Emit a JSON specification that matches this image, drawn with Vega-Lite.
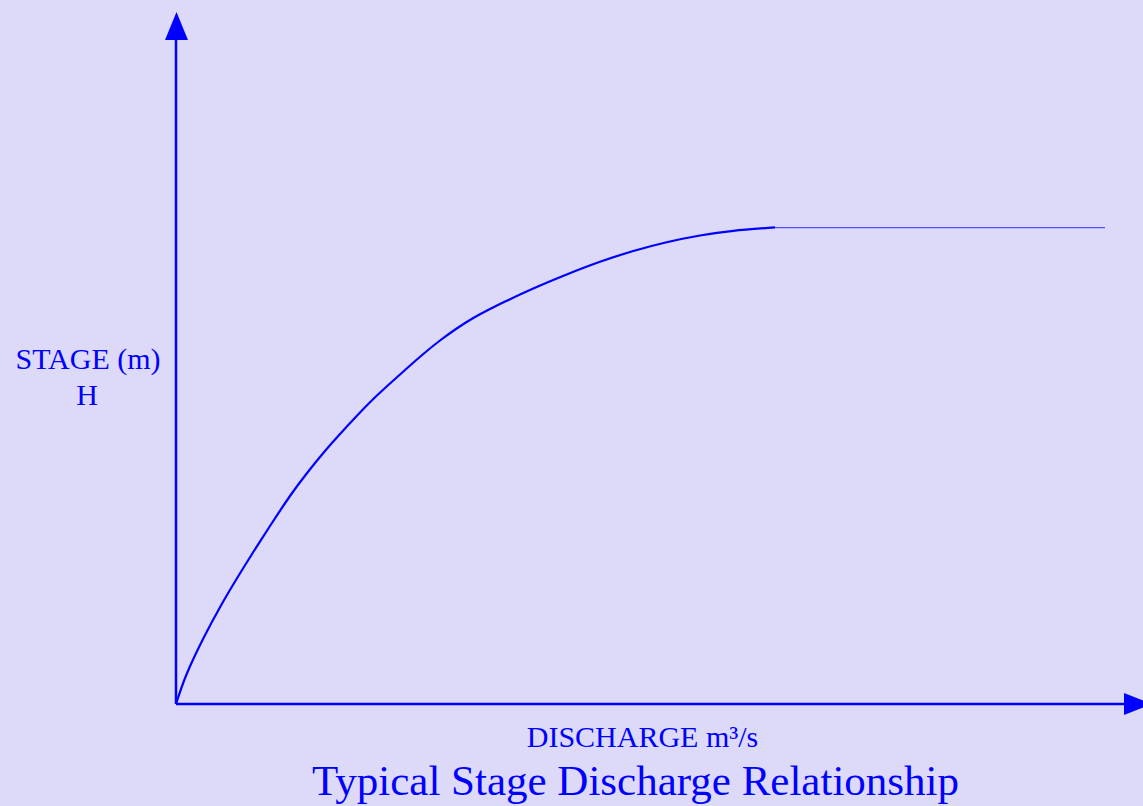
{
  "$schema": "https://vega.github.io/schema/vega-lite/v6.json",
  "width": 1143,
  "height": 806,
  "autosize": {"type": "none"},
  "padding": 0,
  "background": "#DDD9F9",
  "config": {"view": {"stroke": null}},
  "datasets": {
    "axes": [
      {"x": 0, "y": 0, "x2": 0, "y2": 66.4},
      {"x": 0, "y": 0, "x2": 94.8, "y2": 0}
    ],
    "curve": [
      {"discharge": 0, "stage": 0},
      {"discharge": 1.07, "stage": 3.0},
      {"discharge": 2.73, "stage": 6.55},
      {"discharge": 4.4, "stage": 9.68},
      {"discharge": 6.07, "stage": 12.52},
      {"discharge": 7.73, "stage": 15.2},
      {"discharge": 9.4, "stage": 17.8},
      {"discharge": 11.4, "stage": 20.8},
      {"discharge": 13.07, "stage": 23.05},
      {"discharge": 14.73, "stage": 25.1},
      {"discharge": 16.4, "stage": 27.0},
      {"discharge": 18.07, "stage": 28.8},
      {"discharge": 19.73, "stage": 30.5},
      {"discharge": 21.4, "stage": 32.05},
      {"discharge": 23.07, "stage": 33.55},
      {"discharge": 24.73, "stage": 35.0},
      {"discharge": 26.4, "stage": 36.35},
      {"discharge": 28.07, "stage": 37.55},
      {"discharge": 29.73, "stage": 38.6},
      {"discharge": 31.4, "stage": 39.5},
      {"discharge": 33.07, "stage": 40.32},
      {"discharge": 35.73, "stage": 41.55},
      {"discharge": 39.07, "stage": 42.95},
      {"discharge": 42.4, "stage": 44.22},
      {"discharge": 45.73, "stage": 45.3},
      {"discharge": 49.07, "stage": 46.18},
      {"discharge": 52.4, "stage": 46.85},
      {"discharge": 55.73, "stage": 47.32},
      {"discharge": 59.9, "stage": 47.67}
    ],
    "flat": [
      {"discharge": 59.9, "stage": 47.63},
      {"discharge": 92.9, "stage": 47.63}
    ],
    "arrows": [
      {"x": 0.05, "y": 67.8, "dir": "up"},
      {"x": 96.2, "y": 0, "dir": "right"}
    ],
    "labels": [
      {"x": -8.8, "y": 33.5, "text": "STAGE (m)", "role": "axis"},
      {"x": -8.9, "y": 29.9, "text": "H", "role": "axis"},
      {"x": 46.65, "y": -4.27, "text": "DISCHARGE m³/s", "role": "axis"},
      {"x": 45.95, "y": -9.1, "text": "Typical Stage Discharge Relationship", "role": "title"}
    ]
  },
  "layer": [
    {
      "data": {"name": "axes"},
      "mark": {"type": "rule", "color": "#0000FF", "strokeWidth": 2.5},
      "encoding": {
        "x": {"field": "x", "type": "quantitative", "axis": null, "scale": {"domain": [-17.6, 96.7], "nice": false, "zero": false}},
        "y": {"field": "y", "type": "quantitative", "axis": null, "scale": {"domain": [-10.2, 70.4], "nice": false, "zero": false}},
        "x2": {"field": "x2"},
        "y2": {"field": "y2"}
      }
    },
    {
      "data": {"name": "curve"},
      "mark": {"type": "line", "color": "#0000FF", "strokeWidth": 2.2, "interpolate": "natural"},
      "encoding": {
        "x": {"field": "discharge", "type": "quantitative", "axis": null, "scale": {"domain": [-17.6, 96.7], "nice": false, "zero": false}},
        "y": {"field": "stage", "type": "quantitative", "axis": null, "scale": {"domain": [-10.2, 70.4], "nice": false, "zero": false}}
      }
    },
    {
      "data": {"name": "flat"},
      "mark": {"type": "line", "color": "#4F4FFF", "strokeWidth": 1.3},
      "encoding": {
        "x": {"field": "discharge", "type": "quantitative", "axis": null, "scale": {"domain": [-17.6, 96.7], "nice": false, "zero": false}},
        "y": {"field": "stage", "type": "quantitative", "axis": null, "scale": {"domain": [-10.2, 70.4], "nice": false, "zero": false}}
      }
    },
    {
      "data": {"name": "arrows"},
      "mark": {"type": "point", "filled": true, "color": "#0000FF", "opacity": 1, "size": 784, "strokeWidth": 0},
      "encoding": {
        "x": {"field": "x", "type": "quantitative", "axis": null, "scale": {"domain": [-17.6, 96.7], "nice": false, "zero": false}},
        "y": {"field": "y", "type": "quantitative", "axis": null, "scale": {"domain": [-10.2, 70.4], "nice": false, "zero": false}},
        "shape": {"field": "dir", "type": "nominal", "legend": null, "scale": {"domain": ["up", "right"], "range": ["M0,-1L0.82,1L-0.82,1Z", "M1,0L-1,0.79L-1,-0.79Z"]}}
      }
    },
    {
      "data": {"name": "labels"},
      "transform": [{"filter": "datum.role === 'axis'"}],
      "mark": {"type": "text", "font": "Liberation Serif", "fontSize": 30, "color": "#0000FF", "align": "center", "baseline": "alphabetic"},
      "encoding": {
        "x": {"field": "x", "type": "quantitative", "axis": null, "scale": {"domain": [-17.6, 96.7], "nice": false, "zero": false}},
        "y": {"field": "y", "type": "quantitative", "axis": null, "scale": {"domain": [-10.2, 70.4], "nice": false, "zero": false}},
        "text": {"field": "text"}
      }
    },
    {
      "data": {"name": "labels"},
      "transform": [{"filter": "datum.role === 'title'"}],
      "mark": {"type": "text", "font": "Liberation Serif", "fontSize": 43, "color": "#0000FF", "align": "center", "baseline": "alphabetic"},
      "encoding": {
        "x": {"field": "x", "type": "quantitative", "axis": null, "scale": {"domain": [-17.6, 96.7], "nice": false, "zero": false}},
        "y": {"field": "y", "type": "quantitative", "axis": null, "scale": {"domain": [-10.2, 70.4], "nice": false, "zero": false}},
        "text": {"field": "text"}
      }
    }
  ]
}
